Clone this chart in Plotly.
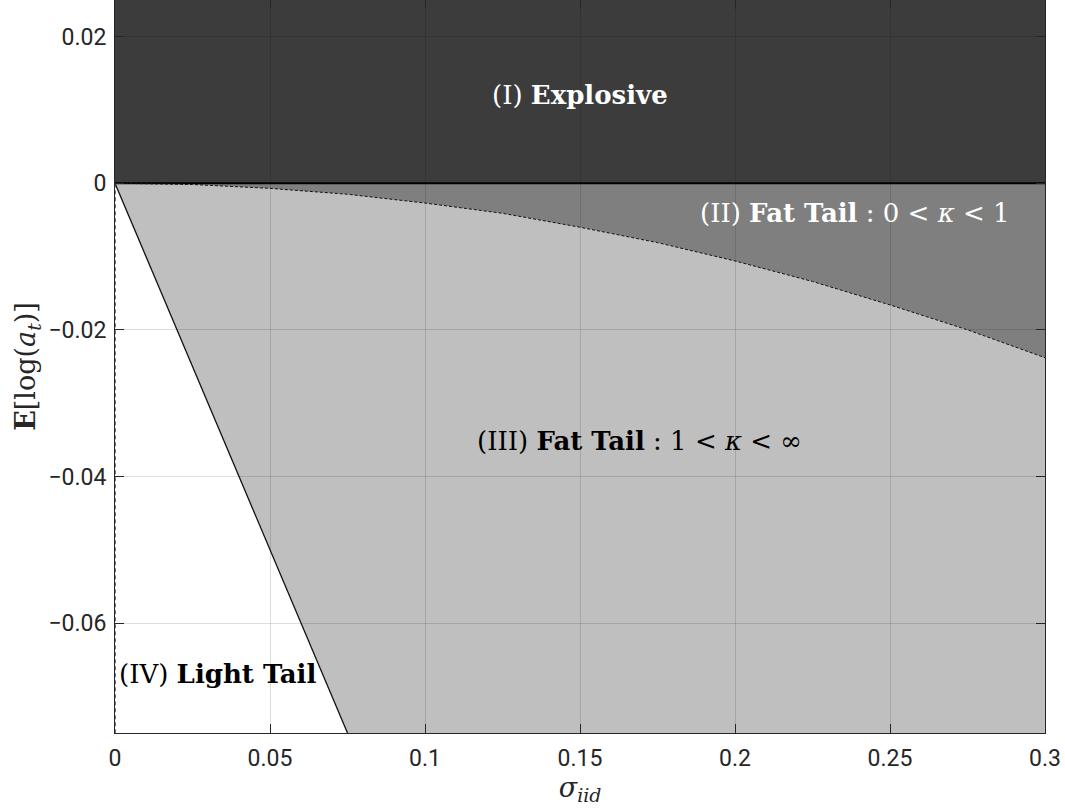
import plotly.graph_objects as go

# Axis limits
sigma_limits = [0.0, 0.3]
e_limits = [-0.075, 0.025]

# Boundary between fat-tail regimes (kappa = 1), read on a 0.025 grid
sigma_grid = [0.0, 0.025, 0.05, 0.075, 0.1, 0.125, 0.15, 0.175, 0.2, 0.225, 0.25, 0.275, 0.3]
kappa_one_e = [0.0, -0.00017, -0.0007, -0.0015, -0.0027, -0.0041, -0.0060,
               -0.0081, -0.0106, -0.0134, -0.0166, -0.0200, -0.0238]

# Light-tail / fat-tail boundary
light_sigma = [0.0, 0.075]
light_e = [0.0, -0.075]

# Tick positions and labels
x_ticks = [0, 0.05, 0.1, 0.15, 0.2, 0.25, 0.3]
x_ticktext = ["0", "0.05", "0.1", "0.15", "0.2", "0.25", "0.3"]
y_ticks = [-0.06, -0.04, -0.02, 0, 0.02]
y_ticktext = ["\u22120.06", "\u22120.04", "\u22120.02", "0", "0.02"]

SERIF = "DejaVu Serif"
SANS = "Roboto"

fig = go.Figure()

# (I) explosive region: E[log a] > 0
fig.add_trace(go.Scatter(
    x=[sigma_limits[0], sigma_limits[1], sigma_limits[1], sigma_limits[0]],
    y=[0, 0, e_limits[1], e_limits[1]],
    fill="toself", fillcolor="rgba(0,0,0,0.765)", mode="none",
    hoverinfo="skip", showlegend=False))

# (II) fat tail 0 < kappa < 1: between zero and kappa=1 boundary
fig.add_trace(go.Scatter(
    x=sigma_grid + sigma_grid[::-1],
    y=kappa_one_e + [0] * len(sigma_grid),
    fill="toself", fillcolor="rgba(0,0,0,0.5)", mode="none",
    hoverinfo="skip", showlegend=False))

# (III) fat tail 1 < kappa < inf: below kappa=1 boundary, right of light-tail line
fig.add_trace(go.Scatter(
    x=sigma_grid + [sigma_limits[1]] + light_sigma[::-1],
    y=kappa_one_e + [e_limits[0]] + light_e[::-1],
    fill="toself", fillcolor="rgba(0,0,0,0.25)", mode="none",
    hoverinfo="skip", showlegend=False))

# Boundary lines
fig.add_trace(go.Scatter(
    x=sigma_limits, y=[0, 0], mode="lines",
    line=dict(color="black", width=2), hoverinfo="skip", showlegend=False))
fig.add_trace(go.Scatter(
    x=sigma_grid, y=kappa_one_e, mode="lines",
    line=dict(color="#111111", width=1, dash="3px,2px"),
    hoverinfo="skip", showlegend=False))
fig.add_trace(go.Scatter(
    x=light_sigma, y=light_e, mode="lines",
    line=dict(color="#111111", width=1.3), hoverinfo="skip", showlegend=False))
fig.add_trace(go.Scatter(
    x=[0, 0], y=[0, e_limits[0]], mode="lines",
    line=dict(color="#444444", width=1.5, dash="4px,3px"),
    hoverinfo="skip", showlegend=False, cliponaxis=False))

label_font = dict(family=SERIF, size=26)
annotations = [
    dict(x=0.15, y=0.0120, text="(I) <b>Explosive</b>",
         font=dict(label_font, color="white"), xanchor="center"),
    dict(x=0.2894, y=-0.0040, text="(II) <b>Fat Tail</b> : 0 &lt; <i>κ</i> &lt; 1",
         font=dict(label_font, color="white"), xanchor="right"),
    dict(x=0.1161, y=-0.0351, text="(III) <b>Fat Tail</b> : 1 &lt; <i>κ</i> &lt; ∞",
         font=dict(label_font, color="black"), xanchor="left"),
    dict(x=0.0006, y=-0.0669, text="(IV) <b>Light Tail</b>",
         font=dict(label_font, color="black"), xanchor="left"),
]
for a in annotations:
    a.update(xref="x", yref="y", showarrow=False, yanchor="middle")

axis_common = dict(
    showgrid=True, gridcolor="rgba(0,0,0,0.13)", gridwidth=1,
    zeroline=False, showline=True, linecolor="#262626", linewidth=1,
    mirror="ticks", ticks="inside", ticklen=9, tickcolor="#262626",
    tickfont=dict(family=SANS, size=23, color="#262626"),
)

fig.update_layout(
    width=1065, height=808,
    margin=dict(l=115, r=20, t=0, b=75),
    paper_bgcolor="white", plot_bgcolor="white",
    annotations=annotations,
    xaxis=dict(axis_common, range=sigma_limits, tickvals=x_ticks, ticktext=x_ticktext,
               ticklabelstandoff=4,
               title=dict(text="<i>σ</i><sub><i>iid</i></sub>",
                          font=dict(family=SERIF, size=27, color="#262626"), standoff=4)),
    yaxis=dict(axis_common, range=e_limits, tickvals=y_ticks, ticktext=y_ticktext,
               ticklabelstandoff=3,
               title=dict(text="<b>E</b>[log(<i>a</i><sub><i>t</i></sub>)]",
                          font=dict(family=SERIF, size=27, color="#262626"), standoff=4)),
)

fig.write_html("out.html")
